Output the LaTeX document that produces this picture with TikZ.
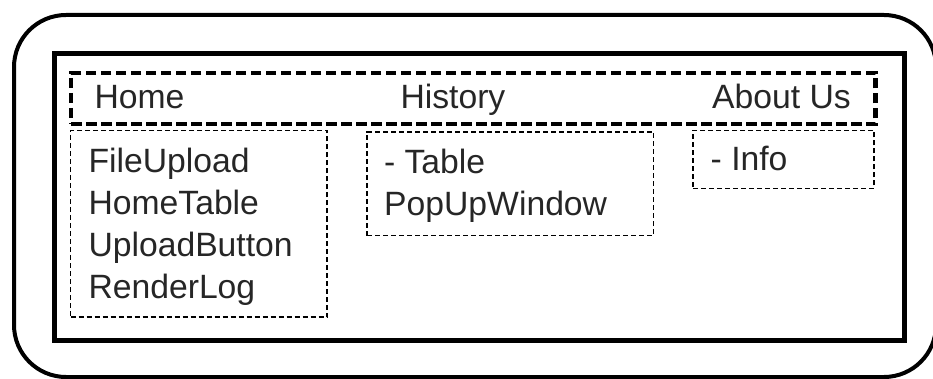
\documentclass[tikz,border=0pt]{standalone}
\usepackage{fontspec}
\setmainfont{Liberation Sans}
\begin{document}
\begin{tikzpicture}[x=1pt,y=-1pt,
  outerframe/.style={draw, line width=4pt, rounded corners=52pt, inner sep=0pt},
  innerframe/.style={draw, line width=5pt, inner sep=0pt},
  menubar/.style={draw, line width=4.5pt, dash pattern=on 10.5pt off 4.5pt, inner sep=0pt},
  listbox/.style={draw, line width=1.3pt, dash pattern=on 5pt off 3pt, inner sep=0pt},
  lbl/.style={anchor=base west, inner sep=0pt, text=black!85, font=\fontsize{33.7}{42}\selectfont}]
\useasboundingbox (0,0) rectangle (933,379);
\clip (0,0) rectangle (933,379);
% frames
\node[outerframe, minimum width=922pt, minimum height=362pt] (outer) at (475,196) {};
\node[innerframe, minimum width=850pt, minimum height=286pt] (inner) at (479,197) {};
\node[menubar, minimum width=804.5pt, minimum height=51pt] (menu) at (473.25,98.5) {};
\node[listbox, minimum width=256.5pt, minimum height=186.5pt] (homebox) at (198.75,223.75) {};
\node[listbox, minimum width=286.5pt, minimum height=103.5pt] (histbox) at (510.25,183.75) {};
\node[listbox, minimum width=181pt, minimum height=58pt] (aboutbox) at (783.5,159.5) {};
% menu labels
\node[lbl] (mhome) at (94.3,109) {Home};
\node[lbl] (mhist) at (400.3,109) {History};
\node[lbl] (mabout) at (712,109) {About Us};
% home list
\node[lbl] (h1) at (88.3,173) {FileUpload};
\node[lbl] (h2) at (88.3,214.8) {HomeTable};
\node[lbl] (h3) at (88.3,256.6) {UploadButton};
\node[lbl] (h4) at (88.3,298.4) {RenderLog};
% history list
\node[lbl] (s1) at (383.8,173.5) {- Table};
\node[lbl] (s2) at (384,215) {PopUpWindow};
% about list
\node[lbl] (a1) at (710.5,171) {- Info};
\end{tikzpicture}
\end{document}
